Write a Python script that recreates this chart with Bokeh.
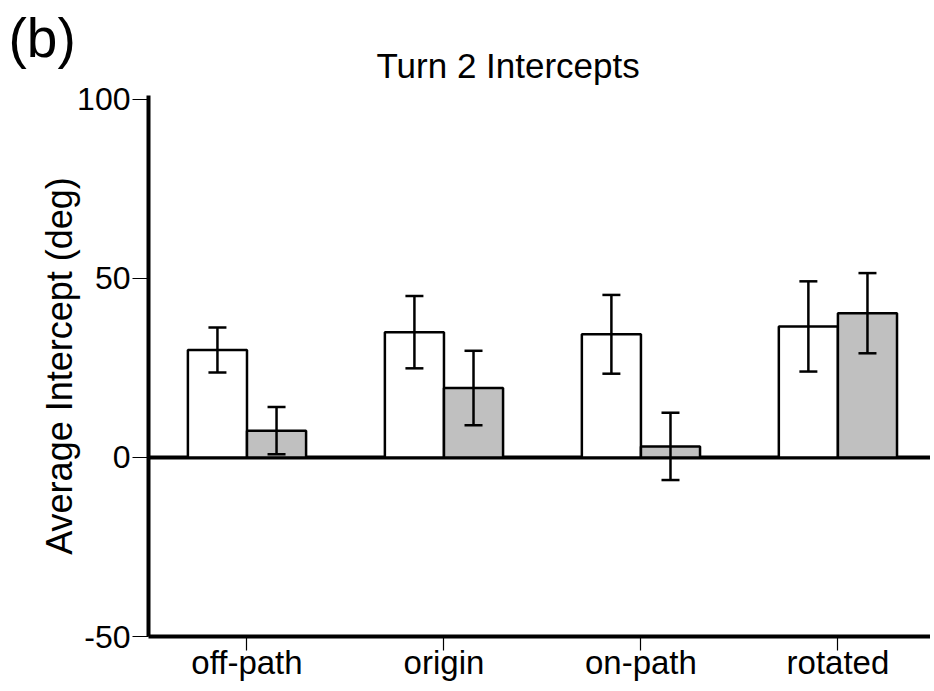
import numpy as np
from bokeh.plotting import figure
from bokeh.models import (ColumnDataSource, Range1d, FixedTicker, Span, Title,
                          Whisker, TeeHead)
from bokeh.transform import dodge
from bokeh.embed import file_html
from bokeh.resources import INLINE

# ---- data ----
categories = ["off-path", "origin", "on-path", "rotated"]
white_means = [30.0, 35.0, 34.4, 36.6]
white_err = [6.3, 10.1, 11.0, 12.6]
gray_means = [7.5, 19.4, 3.1, 40.3]
gray_err = [6.6, 10.4, 9.4, 11.2]
y_ticks = [-50, 0, 50, 100]
y_tick_labels = ["-50", "0", "50", "100"]
title_text = "Turn 2 Intercepts"
y_label = "Average Intercept (deg)"
panel_tag = "(b)"

FONT = "Liberation Sans"

pos = list(range(1, len(categories) + 1))
wm = np.array(white_means)
we = np.array(white_err)
gm = np.array(gray_means)
ge = np.array(gray_err)

src = ColumnDataSource(dict(
    x=pos,
    white=white_means,
    gray=gray_means,
    w_up=list(wm + we), w_lo=list(wm - we),
    g_up=list(gm + ge), g_lo=list(gm - ge),
))

p = figure(width=930, height=690, output_backend="svg", toolbar_location=None,
           title=None,
           x_range=Range1d(0.5, 4.47), y_range=Range1d(-50, 101.1),
           min_border_left=148, min_border_right=0,
           min_border_top=95, min_border_bottom=54)

p.outline_line_color = None
p.grid.visible = False
p.background_fill_color = "white"

# titles (inner: chart title, outer: panel tag)
p.add_layout(Title(text=title_text, text_font=FONT, text_font_size="35px",
                   text_font_style="normal", text_color="black",
                   align="left", offset=228, standoff=22), "above")
p.add_layout(Title(text=panel_tag, text_font=FONT, text_font_size="55px",
                   text_font_style="normal", text_color="black",
                   align="left", offset=-140, standoff=-72), "above")

# zero line beneath bars
p.add_layout(Span(location=0, dimension="width", line_color="black",
                  line_width=4, level="underlay"))

bw = 0.3
p.vbar(x=dodge("x", -0.15, range=p.x_range), top="white", bottom=0, width=bw,
       source=src, fill_color="white", line_color="black", line_width=2.5)
p.vbar(x=dodge("x", 0.15, range=p.x_range), top="gray", bottom=0, width=bw,
       source=src, fill_color="#c0c0c0", line_color="black", line_width=2.5)

for off, up, lo in [(-0.15, "w_up", "w_lo"), (0.15, "g_up", "g_lo")]:
    w = Whisker(base=dodge("x", off, range=p.x_range), upper=up, lower=lo,
                source=src, line_color="black", line_width=2.5, level="annotation",
                upper_head=TeeHead(size=18, line_width=2.5, line_color="black"),
                lower_head=TeeHead(size=18, line_width=2.5, line_color="black"))
    p.add_layout(w)

# y axis
ya = p.yaxis[0]
ya.ticker = FixedTicker(ticks=y_ticks)
ya.major_label_overrides = {t: s for t, s in zip(y_ticks, y_tick_labels)}
ya.axis_line_width = 4
ya.axis_line_color = "black"
ya.major_tick_in = 0
ya.major_tick_out = 16
ya.major_tick_line_width = 1.2
ya.minor_tick_line_color = None
ya.major_label_text_font = FONT
ya.major_label_text_font_size = "32px"
ya.major_label_text_color = "black"
ya.major_label_standoff = 2
ya.axis_label = y_label
ya.axis_label_text_font = FONT
ya.axis_label_text_font_size = "36px"
ya.axis_label_text_font_style = "normal"
ya.axis_label_text_color = "black"
ya.axis_label_standoff = -6

# x axis
xa = p.xaxis[0]
xa.ticker = FixedTicker(ticks=pos)
xa.major_label_overrides = {i: c for i, c in zip(pos, categories)}
xa.axis_line_width = 4
xa.axis_line_color = "black"
xa.major_tick_in = 0
xa.major_tick_out = 14
xa.major_tick_line_width = 1.2
xa.minor_tick_line_color = None
xa.major_label_text_font = FONT
xa.major_label_text_font_size = "33px"
xa.major_label_text_color = "black"
xa.major_label_standoff = -7

open("out.html", "w").write(file_html(p, INLINE))
